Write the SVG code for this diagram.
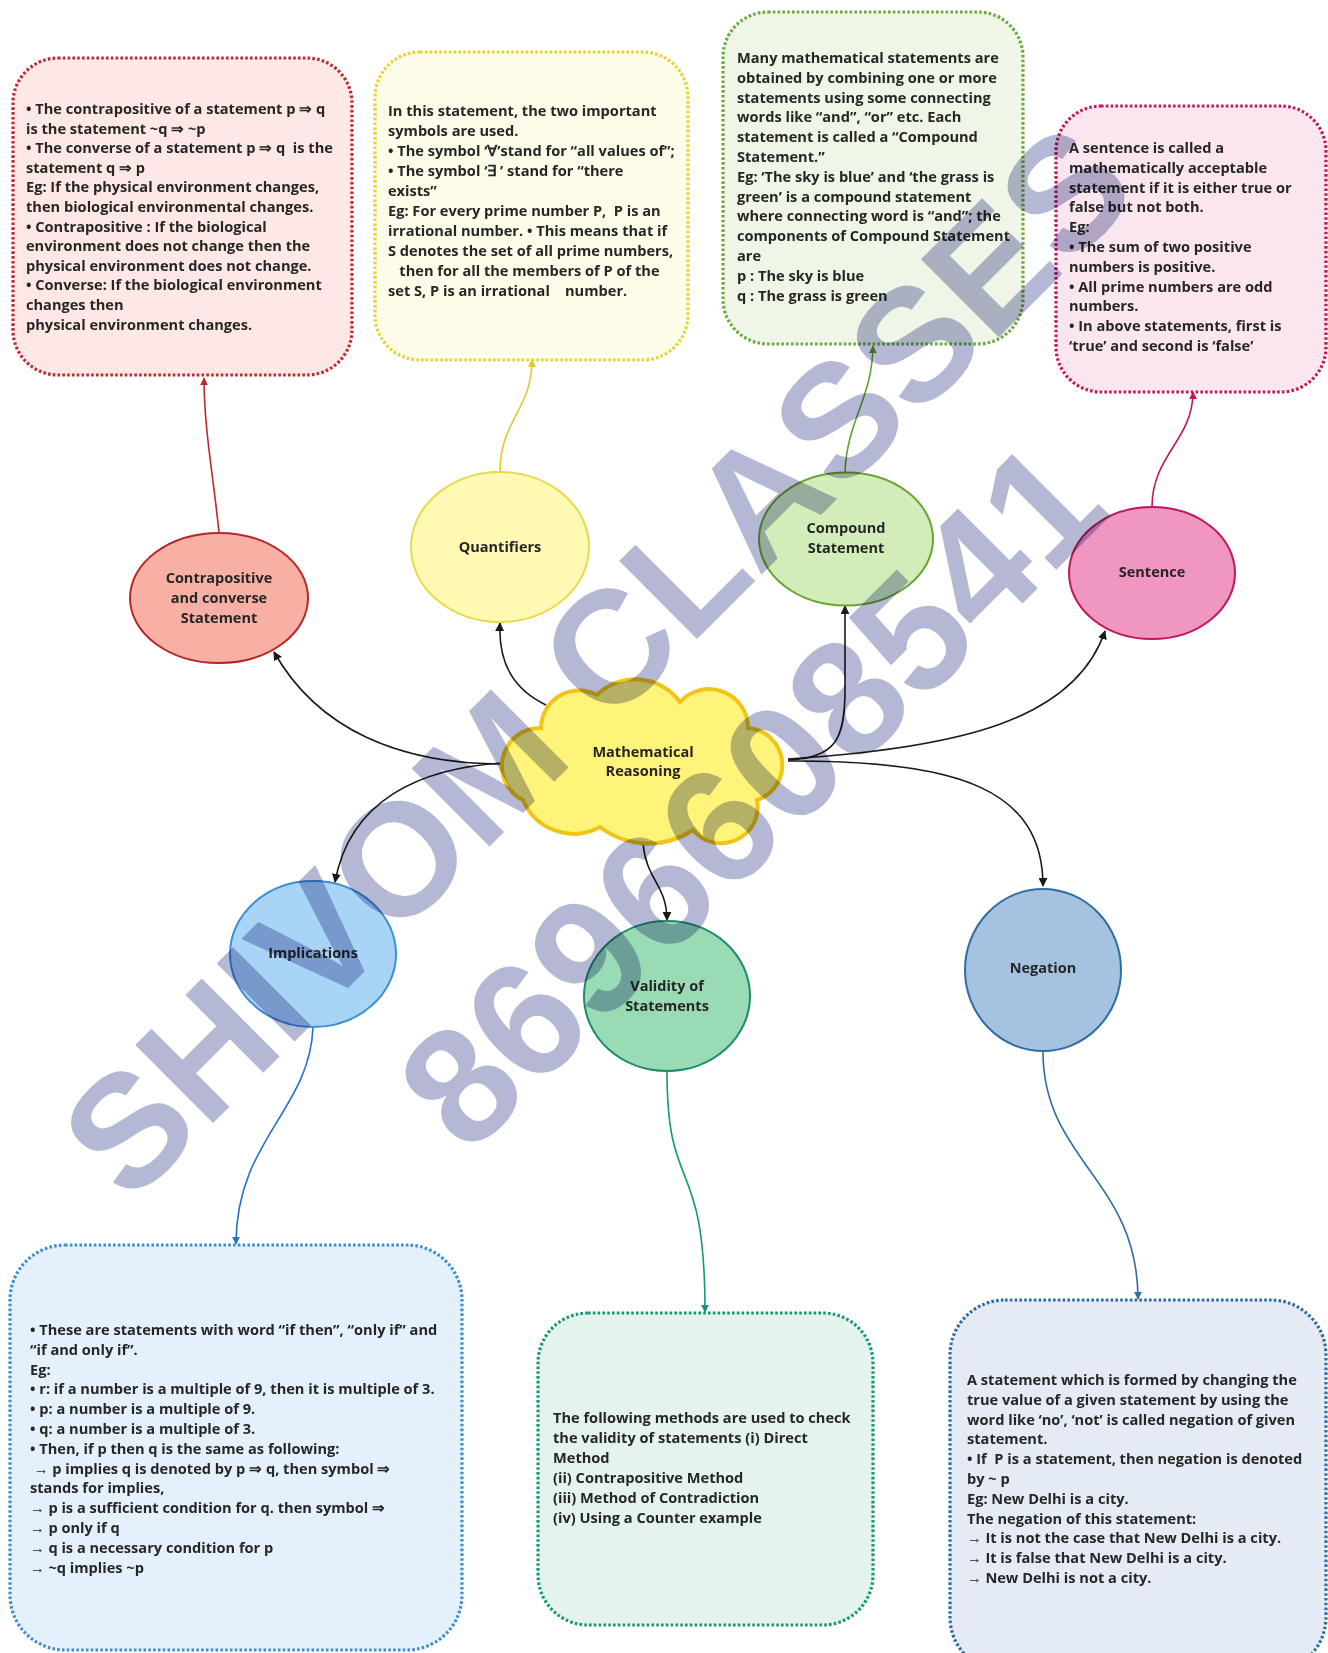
<svg xmlns="http://www.w3.org/2000/svg" width="1328" height="1653" viewBox="0 0 1328 1653">
<style>
.bt{font-family:"Open Sans","Noto Sans",sans-serif;font-weight:700;font-size:14.6px;fill:#262626}
.nt{font-family:"Open Sans","Noto Sans",sans-serif;font-weight:700;font-size:14.5px;fill:#262626;text-anchor:middle}
.box{stroke-width:3.2;stroke-dasharray:2.6 2.2}
.con{fill:none;stroke-width:1.6}
.wm{font-family:"Liberation Sans",Arial,sans-serif;font-weight:700;fill:#b4b8d4;mix-blend-mode:multiply}
</style>
<defs>
<marker id="aK" viewBox="0 0 10 10" refX="9" refY="5" markerWidth="9" markerHeight="9" markerUnits="userSpaceOnUse" orient="auto"><path d="M0,0 L10,5 L0,10 z" fill="#1a1a1a"/></marker>
<marker id="aR" viewBox="0 0 10 10" refX="9" refY="5" markerWidth="8" markerHeight="8" markerUnits="userSpaceOnUse" orient="auto"><path d="M0,0 L10,5 L0,10 z" fill="#c0282d"/></marker>
<marker id="aY" viewBox="0 0 10 10" refX="9" refY="5" markerWidth="8" markerHeight="8" markerUnits="userSpaceOnUse" orient="auto"><path d="M0,0 L10,5 L0,10 z" fill="#e8c62c"/></marker>
<marker id="aG" viewBox="0 0 10 10" refX="9" refY="5" markerWidth="8" markerHeight="8" markerUnits="userSpaceOnUse" orient="auto"><path d="M0,0 L10,5 L0,10 z" fill="#5ea52e"/></marker>
<marker id="aP" viewBox="0 0 10 10" refX="9" refY="5" markerWidth="8" markerHeight="8" markerUnits="userSpaceOnUse" orient="auto"><path d="M0,0 L10,5 L0,10 z" fill="#c2185b"/></marker>
<marker id="aB" viewBox="0 0 10 10" refX="9" refY="5" markerWidth="8" markerHeight="8" markerUnits="userSpaceOnUse" orient="auto"><path d="M0,0 L10,5 L0,10 z" fill="#2a6fc9"/></marker>
<marker id="aT" viewBox="0 0 10 10" refX="9" refY="5" markerWidth="8" markerHeight="8" markerUnits="userSpaceOnUse" orient="auto"><path d="M0,0 L10,5 L0,10 z" fill="#16977a"/></marker>
<marker id="aN" viewBox="0 0 10 10" refX="9" refY="5" markerWidth="8" markerHeight="8" markerUnits="userSpaceOnUse" orient="auto"><path d="M0,0 L10,5 L0,10 z" fill="#2e6da4"/></marker>
</defs>
<rect width="1328" height="1653" fill="#ffffff"/>

<g id="connectors">
<path class="con" stroke="#1a1a1a" marker-end="url(#aK)" d="M 503 764 C 400 764 318 730 274 652"/>
<path class="con" stroke="#1a1a1a" marker-end="url(#aK)" d="M 503 763 C 420 768 350 800 335 882"/>
<path class="con" stroke="#1a1a1a" marker-end="url(#aK)" d="M 546 705 C 515 690 498 665 500 623"/>
<path class="con" stroke="#1a1a1a" marker-end="url(#aK)" d="M 788 760 C 835 758 845 740 845 690 L 845 606"/>
<path class="con" stroke="#1a1a1a" marker-end="url(#aK)" d="M 788 759 C 960 748 1075 720 1105 631"/>
<path class="con" stroke="#1a1a1a" marker-end="url(#aK)" d="M 788 761 C 960 760 1043 790 1043 886"/>
<path class="con" stroke="#1a1a1a" marker-end="url(#aK)" d="M 643 843 C 646 880 667 885 667 920"/>
<path class="con" stroke="#c0282d" marker-end="url(#aR)" d="M 219 533 C 214 480 204 430 204 378"/>
<path class="con" stroke="#e8c62c" marker-end="url(#aY)" d="M 500 472 C 500 420 532 410 532 360"/>
<path class="con" stroke="#5ea52e" marker-end="url(#aG)" d="M 845 472 C 847 420 872 400 873 346"/>
<path class="con" stroke="#c2185b" marker-end="url(#aP)" d="M 1152 507 C 1152 455 1193 440 1193 392"/>
<path class="con" stroke="#2a6fc9" marker-end="url(#aB)" d="M 313 1027 C 310 1110 236 1140 236 1244"/>
<path class="con" stroke="#16977a" marker-end="url(#aT)" d="M 667 1071 C 667 1200 705 1150 705 1312"/>
<path class="con" stroke="#2e6da4" marker-end="url(#aN)" d="M 1043 1052 C 1043 1160 1138 1180 1138 1299"/>
</g>

<g id="box-contrapositive">
<rect class="box" x="13" y="58" width="339" height="317" rx="45" fill="#fde8e6" stroke="#c0282d"/>
<text class="bt" x="26" y="114">• The contrapositive of a statement p ⇒ q</text>
<text class="bt" x="26" y="133.6">is the statement ~q ⇒ ~p</text>
<text class="bt" x="26" y="153.2" xml:space="preserve">• The converse of a statement p ⇒ q  is the</text>
<text class="bt" x="26" y="172.8">statement q ⇒ p</text>
<text class="bt" x="26" y="192.4">Eg: If the physical environment changes,</text>
<text class="bt" x="26" y="212">then biological environmental changes.</text>
<text class="bt" x="26" y="231.6">• Contrapositive : If the biological</text>
<text class="bt" x="26" y="251.2">environment does not change then the</text>
<text class="bt" x="26" y="270.8">physical environment does not change.</text>
<text class="bt" x="26" y="290.4">• Converse: If the biological environment</text>
<text class="bt" x="26" y="310">changes then</text>
<text class="bt" x="26" y="329.6">physical environment changes.</text>
</g>

<g id="box-quantifiers">
<rect class="box" x="375" y="52" width="313" height="308" rx="45" fill="#fdfce8" stroke="#eccf2e"/>
<text class="bt" x="388" y="116">In this statement, the two important</text>
<text class="bt" x="388" y="136">symbols are used.</text>
<text class="bt" x="388" y="156">• The symbol ‘∀’stand for “all values of”;</text>
<text class="bt" x="388" y="176">• The symbol ‘∃ ’ stand for “there</text>
<text class="bt" x="388" y="196">exists”</text>
<text class="bt" x="388" y="216" xml:space="preserve">Eg: For every prime number P,  P is an</text>
<text class="bt" x="388" y="236">irrational number. • This means that if</text>
<text class="bt" x="388" y="256">S denotes the set of all prime numbers,</text>
<text class="bt" x="388" y="276" xml:space="preserve">   then for all the members of P of the</text>
<text class="bt" x="388" y="296" xml:space="preserve">set S, P is an irrational    number.</text>
</g>

<g id="box-compound">
<rect class="box" x="723" y="12" width="300" height="332" rx="45" fill="#eff6e7" stroke="#6aaa3a"/>
<text class="bt" x="737" y="63">Many mathematical statements are</text>
<text class="bt" x="737" y="82.8">obtained by combining one or more</text>
<text class="bt" x="737" y="102.6">statements using some connecting</text>
<text class="bt" x="737" y="122.4">words like “and”, “or” etc. Each</text>
<text class="bt" x="737" y="142.2">statement is called a “Compound</text>
<text class="bt" x="737" y="162">Statement.”</text>
<text class="bt" x="737" y="181.8">Eg: ‘The sky is blue’ and ‘the grass is</text>
<text class="bt" x="737" y="201.6">green’ is a compound statement</text>
<text class="bt" x="737" y="221.4">where connecting word is “and”; the</text>
<text class="bt" x="737" y="241.2">components of Compound Statement</text>
<text class="bt" x="737" y="261">are</text>
<text class="bt" x="737" y="280.8">p : The sky is blue</text>
<text class="bt" x="737" y="300.6">q : The grass is green</text>
</g>

<g id="box-sentence">
<rect class="box" x="1056" y="106" width="270" height="286" rx="45" fill="#fbe5ef" stroke="#c2185b"/>
<text class="bt" x="1069" y="153">A sentence is called a</text>
<text class="bt" x="1069" y="172.8">mathematically acceptable</text>
<text class="bt" x="1069" y="192.6">statement if it is either true or</text>
<text class="bt" x="1069" y="212.4">false but not both.</text>
<text class="bt" x="1069" y="232.2">Eg:</text>
<text class="bt" x="1069" y="252">• The sum of two positive</text>
<text class="bt" x="1069" y="271.8">numbers is positive.</text>
<text class="bt" x="1069" y="291.6">• All prime numbers are odd</text>
<text class="bt" x="1069" y="311.4">numbers.</text>
<text class="bt" x="1069" y="331.2">• In above statements, first is</text>
<text class="bt" x="1069" y="351">‘true’ and second is ‘false’</text>
</g>

<g id="box-implications">
<rect class="box" x="10" y="1245" width="452" height="405" rx="55" fill="#e4f1fc" stroke="#3c8fcf"/>
<text class="bt" x="30" y="1335">• These are statements with word “if then”, “only if” and</text>
<text class="bt" x="30" y="1354.8">“if and only if”.</text>
<text class="bt" x="30" y="1374.6">Eg:</text>
<text class="bt" x="30" y="1394.4">• r: if a number is a multiple of 9, then it is multiple of 3.</text>
<text class="bt" x="30" y="1414.2">• p: a number is a multiple of 9.</text>
<text class="bt" x="30" y="1434">• q: a number is a multiple of 3.</text>
<text class="bt" x="30" y="1453.8">• Then, if p then q is the same as following:</text>
<text class="bt" x="30" y="1473.6" xml:space="preserve"> → p implies q is denoted by p ⇒ q, then symbol ⇒</text>
<text class="bt" x="30" y="1493.4">stands for implies,</text>
<text class="bt" x="30" y="1513.2">→ p is a sufficient condition for q. then symbol ⇒</text>
<text class="bt" x="30" y="1533">→ p only if q</text>
<text class="bt" x="30" y="1552.8">→ q is a necessary condition for p</text>
<text class="bt" x="30" y="1572.6">→ ~q implies ~p</text>
</g>

<g id="box-validity">
<rect class="box" x="538" y="1313" width="335" height="312" rx="50" fill="#e4f4ec" stroke="#16977a"/>
<text class="bt" x="553" y="1423">The following methods are used to check</text>
<text class="bt" x="553" y="1443">the validity of statements (i) Direct</text>
<text class="bt" x="553" y="1463">Method</text>
<text class="bt" x="553" y="1483">(ii) Contrapositive Method</text>
<text class="bt" x="553" y="1503">(iii) Method of Contradiction</text>
<text class="bt" x="553" y="1523">(iv) Using a Counter example</text>
</g>

<g id="box-negation">
<rect class="box" x="950" y="1300" width="376" height="372" rx="55" fill="#e5ebf5" stroke="#2e6da4"/>
<text class="bt" x="967" y="1385">A statement which is formed by changing the</text>
<text class="bt" x="967" y="1404.8">true value of a given statement by using the</text>
<text class="bt" x="967" y="1424.6">word like ‘no’, ‘not’ is called negation of given</text>
<text class="bt" x="967" y="1444.4">statement.</text>
<text class="bt" x="967" y="1464.2" xml:space="preserve">• If  P is a statement, then negation is denoted</text>
<text class="bt" x="967" y="1484">by ~ p</text>
<text class="bt" x="967" y="1503.8">Eg: New Delhi is a city.</text>
<text class="bt" x="967" y="1523.6">The negation of this statement:</text>
<text class="bt" x="967" y="1543.4">→ It is not the case that New Delhi is a city.</text>
<text class="bt" x="967" y="1563.2">→ It is false that New Delhi is a city.</text>
<text class="bt" x="967" y="1583">→ New Delhi is not a city.</text>
</g>

<g id="node-contrapositive">
<ellipse cx="219" cy="598" rx="89" ry="65" fill="#f8b0a4" stroke="#b8262b" stroke-width="2"/>
<text class="nt" x="219" y="583">Contrapositive</text>
<text class="nt" x="219" y="603">and converse</text>
<text class="nt" x="219" y="623">Statement</text>
</g>
<g id="node-quantifiers">
<ellipse cx="500" cy="547" rx="89" ry="75" fill="#fff9b4" stroke="#e8d84a" stroke-width="2"/>
<text class="nt" x="500" y="552">Quantifiers</text>
</g>
<g id="node-compound">
<ellipse cx="846" cy="539" rx="87" ry="66.5" fill="#d3edba" stroke="#6aa532" stroke-width="2"/>
<text class="nt" x="846" y="533">Compound</text>
<text class="nt" x="846" y="553">Statement</text>
</g>
<g id="node-sentence">
<ellipse cx="1152" cy="573" rx="83" ry="66" fill="#ef97c1" stroke="#c2185b" stroke-width="2"/>
<text class="nt" x="1152" y="577">Sentence</text>
</g>
<g id="node-implications">
<ellipse cx="313" cy="954" rx="83" ry="73" fill="#a8d4f6" stroke="#3d8fd0" stroke-width="2"/>
<text class="nt" x="313" y="958">Implications</text>
</g>
<g id="node-validity">
<ellipse cx="667" cy="996" rx="83" ry="75" fill="#98dbb5" stroke="#1e8a6a" stroke-width="2"/>
<text class="nt" x="667" y="991">Validity of</text>
<text class="nt" x="667" y="1011">Statements</text>
</g>
<g id="node-negation">
<ellipse cx="1043" cy="970" rx="78" ry="81" fill="#a5c3e1" stroke="#2e6da4" stroke-width="2"/>
<text class="nt" x="1043" y="973">Negation</text>
</g>
<g id="node-center">
<path d="M 541 728 A 38 38 0 0 1 597 695 A 55 55 0 0 1 680 702 A 39 39 0 0 1 748 728 A 37 37 0 0 1 757 800 A 36.5 36.5 0 0 1 693 830 A 80 80 0 0 1 600 827 A 55 55 0 0 1 523 800 A 38 38 0 0 1 541 728 Z" fill="#fff47a" stroke="#f0c419" stroke-width="4"/>
<text class="nt" x="643" y="757">Mathematical</text>
<text class="nt" x="643" y="776">Reasoning</text>
</g>

<g id="watermark">
<text class="wm" font-size="160" text-anchor="middle" transform="translate(636 700) rotate(-45)">SHIVOM CLASSES</text>
<text class="wm" font-size="164" text-anchor="middle" transform="translate(791 835) rotate(-45)">8696608541</text>
</g>
</svg>
